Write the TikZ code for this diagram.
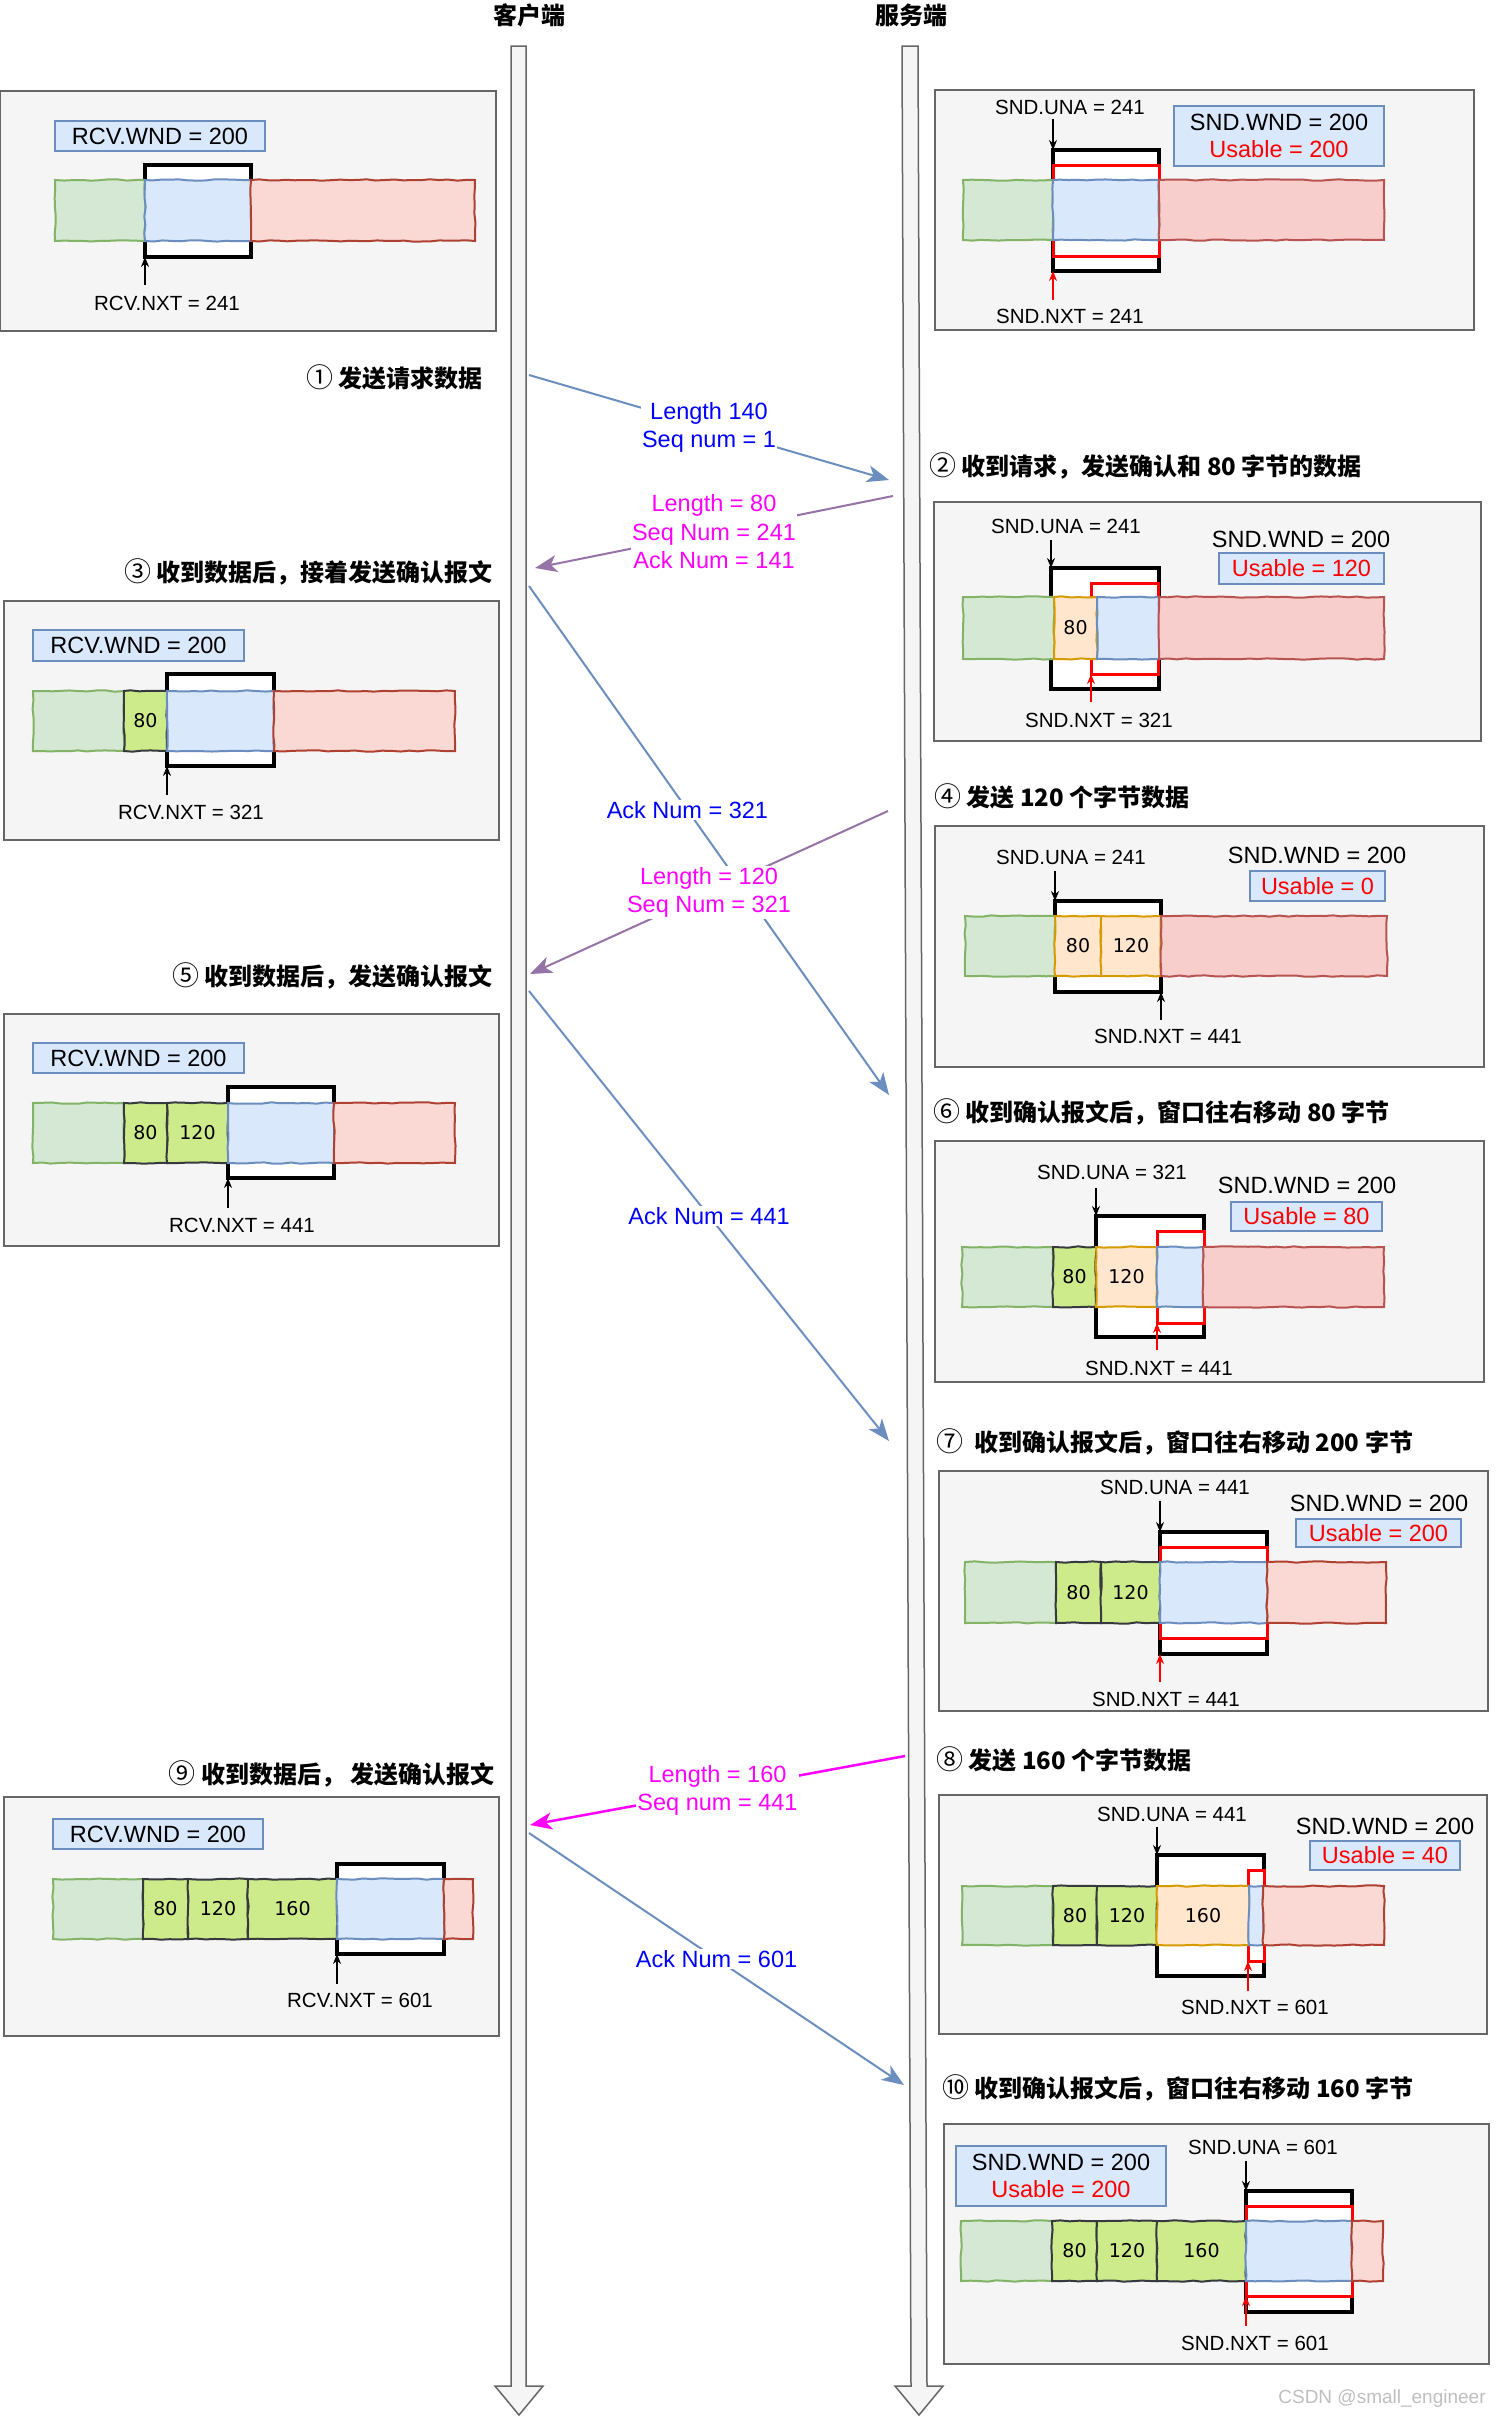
\documentclass[tikz,border=0pt]{standalone}
\usepackage{fontspec}
\setmainfont{Liberation Sans}
\newfontfamily\cjk{Noto Sans CJK SC}
\newfontfamily\numfont{DejaVu Sans}
\usepackage{tikz}
\usetikzlibrary{arrows.meta,positioning,decorations.pathmorphing}

\definecolor{boxbg}{HTML}{F5F5F5}
\definecolor{boxline}{HTML}{666666}
\definecolor{greenfill}{HTML}{D5E8D4}
\definecolor{greenline}{HTML}{82B366}
\definecolor{bluefill}{HTML}{DAE8FC}
\definecolor{blueline}{HTML}{6C8EBF}
\definecolor{redfill}{HTML}{F8CECC}
\definecolor{redline}{HTML}{B85450}
\definecolor{redlight}{HTML}{FAD9D5}
\definecolor{redline2}{HTML}{AE4132}
\definecolor{limefill}{HTML}{CDEB8B}
\definecolor{limeline}{HTML}{36393D}
\definecolor{orangefill}{HTML}{FFE6CC}
\definecolor{orangeline}{HTML}{D79B00}
\definecolor{msgblue}{HTML}{6C8EBF}
\definecolor{msgpurple}{HTML}{9673A6}
\definecolor{txtblue}{HTML}{0000FF}
\definecolor{txtmag}{HTML}{FF00FF}

\newcommand\bigtxt{\fontsize{23.5}{28.5}\selectfont}
\newcommand\smalltxt{\fontsize{20.5}{24}\selectfont}
\newcommand\steptxt{\cjk\bfseries\fontsize{24}{28}\selectfont}
\newcommand\celltxt{\numfont\fontsize{19}{22}\selectfont}
\newcommand\cnum[1]{{\mdseries\fontsize{27}{28}\selectfont #1}}

\begin{document}
\begin{tikzpicture}[x=1pt, y=-1pt,
	life/.style={fill=boxbg, draw=boxline, line width=1.5pt},
	panel/.style={fill=boxbg, draw=boxline, line width=1.5pt},
	wnd/.style={fill=bluefill, draw=blueline, line width=1.5pt, inner sep=0pt, outer sep=0pt, align=center, font=\fontsize{23.5}{27}\selectfont},
	win/.style={fill=white, draw=black, line width=3.5pt, inner sep=0pt, outer sep=0pt, anchor=north west},
	uwin/.style={fill=white, draw=red, line width=3pt, inner sep=0pt, outer sep=0pt, anchor=north west},
	rough/.style={decorate, decoration={random steps, segment length=9pt, amplitude=0.7pt}},
	gc/.style={rough, fill=greenfill, draw=greenline, line width=2pt},
	bc/.style={rough, fill=bluefill, draw=blueline, line width=2pt},
	rc/.style={rough, fill=redfill, draw=redline, line width=2pt},
	rcl/.style={rough, fill=redlight, draw=redline2, line width=2pt},
	lc/.style={rough, fill=limefill, draw=limeline, line width=2pt},
	oc/.style={rough, fill=orangefill, draw=orangeline, line width=2pt},
	num/.style={font=\celltxt, inner sep=0pt},
	tag/.style={font=\smalltxt, inner sep=0pt},
	bigtag/.style={font=\bigtxt, inner sep=0pt},
	steplbl/.style={font=\steptxt, inner sep=0pt},
	ptr/.style={-{Stealth[length=10pt,width=8pt]}, line width=1.2pt},
	msg/.style={line width=2pt, -{Stealth[length=22pt,width=17pt,inset=6pt]}},
	msglbl/.style={font=\bigtxt, fill=white, align=center, inner sep=1pt}
]
	\pgfmathsetseed{7}
	\fill[white] (0,0) rectangle (1499,2417);
	\useasboundingbox (0,0) rectangle (1499,2417);

	% lifelines
	\node[steplbl] (client) at (529,15) {客户端};
	\node[steplbl] (server) at (911,15) {服务端};
	\draw[life] (511,46) -- (526,46) -- (526,2386) -- (543,2386) -- (519,2415) -- (495,2386) -- (511,2386) -- cycle;
	\draw[life] (902,46) -- (918,46) -- (927,2386) -- (943,2386) -- (919,2415) -- (895,2386) -- (911,2386) -- cycle;

	% client 1
	\draw[panel] (0,91) rectangle (496,331);
	\node[wnd, minimum width=210pt, minimum height=30pt] (rwnd1) at (160,136) {RCV.WND = 200};
	\node[win, minimum width=106pt, minimum height=92pt] (rwin1) at (145,165) {};
	\draw[gc] (55,180) rectangle (145,241);
	\draw[bc] (145,180) rectangle (251,241);
	\draw[rcl] (251,180) rectangle (475,241);
	\node[tag] (rnxt1) at (167,303) {RCV.NXT = 241};
	\coordinate (rp1) at (145,285);
	\draw[ptr] (rp1) -- (rwin1.south west);

	% client 3
	\node[steplbl, anchor=east] (st1) at (483,377) {\cnum{①} 发送请求数据};
	\node[steplbl, anchor=east] (st3) at (493,572) {\cnum{③} 收到数据后，接着发送确认报文};
	\draw[panel] (4,601) rectangle (499,840);
	\node[wnd, minimum width=211pt, minimum height=31pt] (rwnd3) at (138.5,645.5) {RCV.WND = 200};
	\node[win, minimum width=107pt, minimum height=92pt] (rwin3) at (167,674) {};
	\draw[gc] (33,691) rectangle (124,751);
	\draw[lc] (124,691) rectangle (167,751) node[num, midway] (n3a) {80};
	\draw[bc] (167,691) rectangle (274,751);
	\draw[rcl] (274,691) rectangle (455,751);
	\node[tag] (rnxt3) at (191,812) {RCV.NXT = 321};
	\coordinate (rp3) at (167,795);
	\draw[ptr] (rp3) -- (rwin3.south west);

	% client 5
	\node[steplbl, anchor=east] (st5) at (493,976) {\cnum{⑤} 收到数据后，发送确认报文};
	\draw[panel] (4,1014) rectangle (499,1246);
	\node[wnd, minimum width=211pt, minimum height=30pt] (rwnd5) at (138.5,1058) {RCV.WND = 200};
	\node[win, minimum width=106pt, minimum height=91pt] (rwin5) at (228,1087) {};
	\draw[gc] (33,1103) rectangle (124,1163);
	\draw[lc] (124,1103) rectangle (167,1163) node[num, midway] (n5a) {80};
	\draw[lc] (167,1103) rectangle (228,1163) node[num, midway] (n5b) {120};
	\draw[bc] (228,1103) rectangle (334,1163);
	\draw[rcl] (334,1103) rectangle (455,1163);
	\node[tag] (rnxt5) at (242,1225) {RCV.NXT = 441};
	\coordinate (rp5) at (228,1208);
	\draw[ptr] (rp5) -- (rwin5.south west);

	% client 9
	\node[steplbl, anchor=east] (st9) at (495,1774) {\cnum{⑨} 收到数据后， 发送确认报文};
	\draw[panel] (4,1797) rectangle (499,2036);
	\node[wnd, minimum width=210pt, minimum height=30pt] (rwnd9) at (158,1834) {RCV.WND = 200};
	\node[win, minimum width=107pt, minimum height=90pt] (rwin9) at (337,1864) {};
	\draw[gc] (53,1879) rectangle (143,1939);
	\draw[lc] (143,1879) rectangle (188,1939) node[num, midway] (n9a) {80};
	\draw[lc] (188,1879) rectangle (248,1939) node[num, midway] (n9b) {120};
	\draw[lc] (248,1879) rectangle (337,1939) node[num, midway] (n9c) {160};
	\draw[bc] (337,1879) rectangle (444,1939);
	\draw[rcl] (444,1879) rectangle (473,1939);
	\node[tag] (rnxt9) at (360,2000) {RCV.NXT = 601};
	\coordinate (rp9) at (337,1984);
	\draw[ptr] (rp9) -- (rwin9.south west);

	% server 1
	\draw[panel] (935,90) rectangle (1474,330);
	\node[tag] (una1) at (1070,107) {SND.UNA = 241};
	\node[wnd, minimum width=210pt, minimum height=60pt] (swnd1) at (1279,136) {SND.WND = 200\\\textcolor{red}{Usable = 200}};
	\node[win, minimum width=106pt, minimum height=121pt] (swin1) at (1053,150) {};
	\node[uwin, minimum width=106pt, minimum height=91pt] (suse1) at (1053,165) {};
	\draw[gc] (963,180) rectangle (1053,240);
	\draw[bc] (1053,180) rectangle (1159,240);
	\draw[rc] (1159,180) rectangle (1384,240);
	\node[tag] (nxt1) at (1070,316) {SND.NXT = 241};
	\coordinate (up1) at (1053,119);
	\coordinate (np1) at (1053,300);
	\draw[ptr] (up1) -- (swin1.north west);
	\draw[ptr, red] (np1) -- (swin1.south west);

	% server 2
	\node[steplbl, anchor=west] (st2) at (929,466) {\cnum{②} 收到请求，发送确认和 80 字节的数据};
	\draw[panel] (934,502) rectangle (1481,741);
	\node[tag] (una2) at (1066,526) {SND.UNA = 241};
	\node[bigtag] (sw2) at (1301,539) {SND.WND = 200};
	\node[wnd, minimum width=165pt, minimum height=31pt, text=red] (swnd2) at (1301.5,568.5) {Usable = 120};
	\node[win, minimum width=108pt, minimum height=121pt] (swin2) at (1051,568) {};
	\node[uwin, minimum width=67pt, minimum height=91pt] (suse2) at (1091,583) {};
	\draw[gc] (963,597) rectangle (1054,659);
	\draw[oc] (1054,597) rectangle (1097,659) node[num, midway] (s2a) {80};
	\draw[bc] (1097,597) rectangle (1159,659);
	\draw[rc] (1159,597) rectangle (1384,659);
	\node[tag] (nxt2) at (1099,720) {SND.NXT = 321};
	\coordinate (up2) at (1051,540);
	\coordinate (np2) at (1091,702);
	\draw[ptr] (up2) -- (swin2.north west);
	\draw[ptr, red] (np2) -- (suse2.south west);

	% server 4
	\node[steplbl, anchor=west] (st4) at (934,796) {\cnum{④} 发送 120 个字节数据};
	\draw[panel] (935,826) rectangle (1484,1067);
	\node[tag] (una4) at (1071,857) {SND.UNA = 241};
	\node[bigtag] (sw4) at (1317,855) {SND.WND = 200};
	\node[wnd, minimum width=135pt, minimum height=30pt, text=red] (swnd4) at (1317.5,886) {Usable = 0};
	\node[win, minimum width=106pt, minimum height=91pt] (swin4) at (1055,901) {};
	\draw[gc] (965,916) rectangle (1055,976);
	\draw[oc] (1055,916) rectangle (1101,976) node[num, midway] (s4a) {80};
	\draw[oc] (1101,916) rectangle (1161,976) node[num, midway] (s4b) {120};
	\draw[rc] (1161,916) rectangle (1387,976);
	\node[tag] (nxt4) at (1168,1036) {SND.NXT = 441};
	\coordinate (up4) at (1055,871);
	\coordinate (np4) at (1161,1020);
	\draw[ptr] (up4) -- (swin4.north west);
	\draw[ptr] (np4) -- (swin4.south east);

	% server 6
	\node[steplbl, anchor=west] (st6) at (933,1112) {\cnum{⑥} 收到确认报文后，窗口往右移动 80 字节};
	\draw[panel] (935,1141) rectangle (1484,1382);
	\node[tag] (una6) at (1112,1172) {SND.UNA = 321};
	\node[bigtag] (sw6) at (1307,1185) {SND.WND = 200};
	\node[wnd, minimum width=151pt, minimum height=29pt, text=red] (swnd6) at (1306.5,1216.5) {Usable = 80};
	\node[win, minimum width=108pt, minimum height=121pt] (swin6) at (1096,1216) {};
	\node[uwin, minimum width=47pt, minimum height=92pt] (suse6) at (1157,1231) {};
	\draw[gc] (962,1247) rectangle (1053,1307);
	\draw[lc] (1053,1247) rectangle (1096,1307) node[num, midway] (s6a) {80};
	\draw[oc] (1096,1247) rectangle (1157,1307) node[num, midway] (s6b) {120};
	\draw[bc] (1157,1247) rectangle (1203,1307);
	\draw[rc] (1203,1247) rectangle (1384,1307);
	\node[tag] (nxt6) at (1159,1368) {SND.NXT = 441};
	\coordinate (up6) at (1096,1188);
	\coordinate (np6) at (1157,1350);
	\draw[ptr] (up6) -- (swin6.north west);
	\draw[ptr, red] (np6) -- (suse6.south west);

	% server 7
	\node[steplbl, anchor=west] (st7) at (936,1442) {\cnum{⑦}\ \ 收到确认报文后，窗口往右移动 200 字节};
	\draw[panel] (939,1471) rectangle (1488,1711);
	\node[tag] (una7) at (1175,1487) {SND.UNA = 441};
	\node[bigtag] (sw7) at (1379,1503) {SND.WND = 200};
	\node[wnd, minimum width=165pt, minimum height=28pt, text=red] (swnd7) at (1378.5,1533) {Usable = 200};
	\node[win, minimum width=107pt, minimum height=122pt] (swin7) at (1160,1532) {};
	\node[uwin, minimum width=107pt, minimum height=91pt] (suse7) at (1160,1547) {};
	\draw[gc] (965,1562) rectangle (1056,1623);
	\draw[lc] (1056,1562) rectangle (1101,1623) node[num, midway] (s7a) {80};
	\draw[lc] (1101,1562) rectangle (1160,1623) node[num, midway] (s7b) {120};
	\draw[bc] (1160,1562) rectangle (1267,1623);
	\draw[rcl] (1267,1562) rectangle (1386,1623);
	\node[tag] (nxt7) at (1166,1699) {SND.NXT = 441};
	\coordinate (up7) at (1160,1501);
	\coordinate (np7) at (1160,1682);
	\draw[ptr] (up7) -- (swin7.north west);
	\draw[ptr, red] (np7) -- (swin7.south west);

	% server 8
	\node[steplbl, anchor=west] (st8) at (936,1759) {\cnum{⑧} 发送 160 个字节数据};
	\draw[panel] (939,1795) rectangle (1487,2034);
	\node[tag] (una8) at (1172,1814) {SND.UNA = 441};
	\node[bigtag] (sw8) at (1385,1826) {SND.WND = 200};
	\node[wnd, minimum width=150pt, minimum height=29pt, text=red] (swnd8) at (1385,1855.5) {Usable = 40};
	\node[win, minimum width=107pt, minimum height=121pt] (swin8) at (1157,1855) {};
	\node[uwin, minimum width=16pt, minimum height=91pt] (suse8) at (1248,1870) {};
	\draw[gc] (962,1886) rectangle (1053,1945);
	\draw[lc] (1053,1886) rectangle (1097,1945) node[num, midway] (s8a) {80};
	\draw[lc] (1097,1886) rectangle (1157,1945) node[num, midway] (s8b) {120};
	\draw[oc] (1157,1886) rectangle (1249,1945) node[num, midway] (s8c) {160};
	\draw[bc] (1249,1886) rectangle (1263,1945);
	\draw[rcl] (1263,1886) rectangle (1384,1945);
	\node[tag] (nxt8) at (1255,2007) {SND.NXT = 601};
	\coordinate (up8) at (1157,1827);
	\coordinate (np8) at (1248,1991);
	\draw[ptr] (up8) -- (swin8.north west);
	\draw[ptr, red] (np8) -- (suse8.south west);

	% server 10
	\node[steplbl, anchor=west] (st10) at (942,2088) {\cnum{⑩} 收到确认报文后，窗口往右移动 160 字节};
	\draw[panel] (944,2124) rectangle (1489,2364);
	\node[wnd, minimum width=210pt, minimum height=60pt] (swnd10) at (1061,2176) {SND.WND = 200\\\textcolor{red}{Usable = 200}};
	\node[tag] (una10) at (1263,2147) {SND.UNA = 601};
	\node[win, minimum width=106pt, minimum height=121pt] (swin10) at (1246,2191) {};
	\node[uwin, minimum width=106pt, minimum height=90pt] (suse10) at (1246,2206) {};
	\draw[gc] (961,2221) rectangle (1052,2281);
	\draw[lc] (1052,2221) rectangle (1097,2281) node[num, midway] (s10a) {80};
	\draw[lc] (1097,2221) rectangle (1157,2281) node[num, midway] (s10b) {120};
	\draw[lc] (1157,2221) rectangle (1246,2281) node[num, midway] (s10c) {160};
	\draw[bc] (1246,2221) rectangle (1352,2281);
	\draw[rcl] (1352,2221) rectangle (1383,2281);
	\node[tag] (nxt10) at (1255,2343) {SND.NXT = 601};
	\coordinate (up10) at (1246,2161);
	\coordinate (np10) at (1246,2326);
	\draw[ptr] (up10) -- (swin10.north west);
	\draw[ptr, red] (np10) -- (suse10.south west);

	% messages
	\coordinate (m1s) at (529,375);
	\coordinate (m1e) at (889,480);
	\coordinate (m2s) at (893,496);
	\coordinate (m2e) at (535,568);
	\coordinate (m3s) at (529,586);
	\coordinate (m3e) at (889,1095);
	\coordinate (m4s) at (888,811);
	\coordinate (m4e) at (530,974);
	\coordinate (m5s) at (529,991);
	\coordinate (m5e) at (889,1441);
	\coordinate (m6s) at (905,1756);
	\coordinate (m6e) at (530,1825);
	\coordinate (m7s) at (529,1833);
	\coordinate (m7e) at (904,2085);

	\draw[msg, msgblue] (m1s) -- node[msglbl, text=txtblue] (l1) {Length 140\\Seq num = 1} (m1e);
	\draw[msg, msgpurple] (m2s) -- node[msglbl, text=txtmag] (l2) {Length = 80\\Seq Num = 241\\Ack Num = 141} (m2e);
	\draw[msg, msgblue] (m3s) -- node[msglbl, text=txtblue, pos=0.44] (l3) {Ack Num = 321} (m3e);
	\draw[msg, msgpurple] (m4s) -- node[msglbl, text=txtmag] (l4) {Length = 120\\Seq Num = 321} (m4e);
	\draw[msg, msgblue] (m5s) -- node[msglbl, text=txtblue] (l5) {Ack Num = 441} (m5e);
	\draw[msg, txtmag, line width=2.5pt] (m6s) -- node[msglbl, text=txtmag] (l6) {Length = 160\\Seq num = 441} (m6e);
	\draw[msg, msgblue] (m7s) -- node[msglbl, text=txtblue] (l7) {Ack Num = 601} (m7e);

	\node[font=\fontsize{19}{22}\selectfont, text=black!25, inner sep=0pt] (mark) at (1382,2399) {CSDN @small\_engineer};
\end{tikzpicture}
\end{document}
